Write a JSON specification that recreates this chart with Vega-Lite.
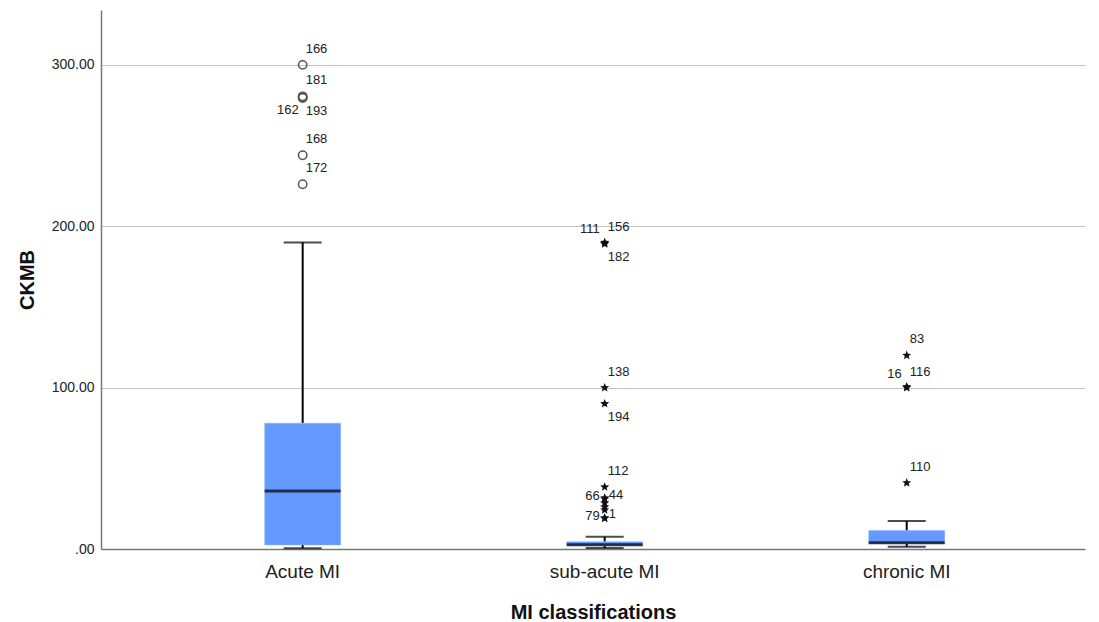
{
  "$schema": "https://vega.github.io/schema/vega-lite/v6.json",
  "width": 984,
  "height": 539,
  "autosize": "none",
  "padding": {"left": 101, "top": 10, "right": 14, "bottom": 73},
  "background": "white",
  "config": {
    "font": "Liberation Sans",
    "view": {"stroke": null},
    "axis": {"labelFont": "Liberation Sans", "titleFont": "Liberation Sans"}
  },
  "datasets": {
    "boxes": [
      {"category": "Acute MI", "lower": 0.5, "q1": 2.5, "median": 36, "q3": 78, "upper": 190},
      {"category": "sub-acute MI", "lower": 0.6, "q1": 2.0, "median": 2.6, "q3": 4.5, "upper": 7.6},
      {"category": "chronic MI", "lower": 1.4, "q1": 3.3, "median": 3.9, "q3": 11.4, "upper": 17.4}
    ],
    "pts": [
      {"category": "Acute MI", "id": "166", "value": 300, "kind": "outlier", "labelPos": "ur"},
      {"category": "Acute MI", "id": "181", "value": 280.5, "kind": "outlier", "labelPos": "ur"},
      {"category": "Acute MI", "id": "162", "value": 280, "kind": "outlier", "labelPos": "ll"},
      {"category": "Acute MI", "id": "193", "value": 279.5, "kind": "outlier", "labelPos": "lr"},
      {"category": "Acute MI", "id": "168", "value": 244, "kind": "outlier", "labelPos": "ur"},
      {"category": "Acute MI", "id": "172", "value": 226, "kind": "outlier", "labelPos": "ur"},
      {"category": "sub-acute MI", "id": "111", "value": 190, "kind": "extreme", "labelPos": "ul"},
      {"category": "sub-acute MI", "id": "156", "value": 189.5, "kind": "extreme", "labelPos": "ur"},
      {"category": "sub-acute MI", "id": "182", "value": 189, "kind": "extreme", "labelPos": "lr"},
      {"category": "sub-acute MI", "id": "138", "value": 100, "kind": "extreme", "labelPos": "ur"},
      {"category": "sub-acute MI", "id": "194", "value": 90, "kind": "extreme", "labelPos": "lr"},
      {"category": "sub-acute MI", "id": "112", "value": 38.4, "kind": "extreme", "labelPos": "ur"},
      {"category": "sub-acute MI", "id": "66", "value": 31.6, "kind": "extreme", "labelPos": "l"},
      {"category": "sub-acute MI", "id": "44", "value": 31, "kind": "extreme", "labelPos": "r"},
      {"category": "sub-acute MI", "id": "", "value": 28.5, "kind": "extreme", "labelPos": "none"},
      {"category": "sub-acute MI", "id": "", "value": 26, "kind": "extreme", "labelPos": "none"},
      {"category": "sub-acute MI", "id": "", "value": 24.2, "kind": "extreme", "labelPos": "none"},
      {"category": "sub-acute MI", "id": "79", "value": 19.2, "kind": "extreme", "labelPos": "l"},
      {"category": "sub-acute MI", "id": "1", "value": 19, "kind": "extreme", "labelPos": "r"},
      {"category": "chronic MI", "id": "83", "value": 120, "kind": "extreme", "labelPos": "ur"},
      {"category": "chronic MI", "id": "16", "value": 100.5, "kind": "extreme", "labelPos": "ul"},
      {"category": "chronic MI", "id": "116", "value": 100, "kind": "extreme", "labelPos": "ur"},
      {"category": "chronic MI", "id": "110", "value": 41, "kind": "extreme", "labelPos": "ur"}
    ]
  },
  "layer": [
    {
      "data": {"name": "boxes"},
      "mark": {"type": "rule", "color": "black", "strokeWidth": 2},
      "encoding": {
        "x": {
          "field": "category", "type": "nominal", "title": "MI classifications",
          "sort": ["Acute MI", "sub-acute MI", "chronic MI"],
          "scale": {"paddingInner": 0, "paddingOuter": 0.129, "align": 0.65},
          "axis": {
            "orient": "bottom",
            "labelAngle": 0, "labelFontSize": 19, "labelColor": "#222", "labelPadding": 13,
            "ticks": false, "domainColor": "#777", "domainWidth": 1.5,
            "titleFontSize": 20, "titleFontWeight": "bold", "titleColor": "#111", "titlePadding": 21
          }
        },
        "y": {
          "field": "lower", "type": "quantitative", "title": "CKMB",
          "scale": {"domain": [0, 334], "nice": false, "zero": true},
          "axis": {
            "orient": "left",
            "values": [0, 100, 200, 300],
            "labelExpr": "datum.value == 0 ? '.00' : format(datum.value, '.2f')",
            "labelFontSize": 14, "labelColor": "#222", "labelPadding": 7,
            "ticks": false, "domainColor": "#777", "domainWidth": 1.5,
            "grid": true, "gridColor": "#c4c4c4", "gridWidth": 1,
            "titleFontSize": 20, "titleFontWeight": "bold", "titleColor": "#111", "titlePadding": 14
          }
        },
        "y2": {"field": "q1"}
      }
    },
    {
      "data": {"name": "boxes"},
      "mark": {"type": "rule", "color": "black", "strokeWidth": 2},
      "encoding": {
        "x": {"field": "category", "type": "nominal", "title": "MI classifications", "sort": ["Acute MI", "sub-acute MI", "chronic MI"]},
        "y": {"field": "q3", "type": "quantitative", "title": "CKMB"},
        "y2": {"field": "upper"}
      }
    },
    {
      "data": {"name": "boxes"},
      "mark": {"type": "bar", "color": "#6699FF", "size": 76, "stroke": "#8fb3ff", "strokeWidth": 0.5},
      "encoding": {
        "x": {"field": "category", "type": "nominal", "title": "MI classifications", "sort": ["Acute MI", "sub-acute MI", "chronic MI"]},
        "y": {"field": "q1", "type": "quantitative", "title": "CKMB"},
        "y2": {"field": "q3"}
      }
    },
    {
      "data": {"name": "boxes"},
      "mark": {"type": "tick", "color": "black", "size": 38, "thickness": 2},
      "encoding": {
        "x": {"field": "category", "type": "nominal", "title": "MI classifications", "sort": ["Acute MI", "sub-acute MI", "chronic MI"]},
        "y": {"field": "upper", "type": "quantitative", "title": "CKMB"}
      }
    },
    {
      "data": {"name": "boxes"},
      "mark": {"type": "tick", "color": "black", "size": 38, "thickness": 2},
      "encoding": {
        "x": {"field": "category", "type": "nominal", "title": "MI classifications", "sort": ["Acute MI", "sub-acute MI", "chronic MI"]},
        "y": {"field": "lower", "type": "quantitative", "title": "CKMB"}
      }
    },
    {
      "data": {"name": "boxes"},
      "mark": {"type": "tick", "color": "black", "size": 76, "thickness": 3},
      "encoding": {
        "x": {"field": "category", "type": "nominal", "title": "MI classifications", "sort": ["Acute MI", "sub-acute MI", "chronic MI"]},
        "y": {"field": "median", "type": "quantitative", "title": "CKMB"}
      }
    },
    {
      "data": {"name": "pts"},
      "transform": [{"filter": "datum.kind == 'outlier'"}],
      "mark": {"type": "point", "shape": "circle", "filled": false, "stroke": "#555", "strokeWidth": 1.5, "size": 70, "opacity": 1},
      "encoding": {
        "x": {"field": "category", "type": "nominal", "title": "MI classifications", "sort": ["Acute MI", "sub-acute MI", "chronic MI"]},
        "y": {"field": "value", "type": "quantitative", "title": "CKMB"}
      }
    },
    {
      "data": {"name": "pts"},
      "transform": [{"filter": "datum.kind == 'extreme'"}],
      "mark": {"type": "point", "shape": "M0,-1L0.26,-0.36L0.951,-0.309L0.42,0.137L0.588,0.809L0,0.44L-0.588,0.809L-0.42,0.137L-0.951,-0.309L-0.26,-0.36Z", "filled": true, "color": "#111", "size": 90, "opacity": 1},
      "encoding": {
        "x": {"field": "category", "type": "nominal", "title": "MI classifications", "sort": ["Acute MI", "sub-acute MI", "chronic MI"]},
        "y": {"field": "value", "type": "quantitative", "title": "CKMB"}
      }
    },
    {
      "data": {"name": "pts"},
      "transform": [{"filter": "datum.labelPos == 'ur'"}],
      "mark": {"type": "text", "align": "left", "baseline": "middle", "dx": 3, "dy": -16, "fontSize": 13, "color": "#222"},
      "encoding": {
        "x": {"field": "category", "type": "nominal", "title": "MI classifications", "sort": ["Acute MI", "sub-acute MI", "chronic MI"]},
        "y": {"field": "value", "type": "quantitative", "title": "CKMB"},
        "text": {"field": "id"}
      }
    },
    {
      "data": {"name": "pts"},
      "transform": [{"filter": "datum.labelPos == 'ul'"}],
      "mark": {"type": "text", "align": "right", "baseline": "middle", "dx": -5, "dy": -13, "fontSize": 13, "color": "#222"},
      "encoding": {
        "x": {"field": "category", "type": "nominal", "title": "MI classifications", "sort": ["Acute MI", "sub-acute MI", "chronic MI"]},
        "y": {"field": "value", "type": "quantitative", "title": "CKMB"},
        "text": {"field": "id"}
      }
    },
    {
      "data": {"name": "pts"},
      "transform": [{"filter": "datum.labelPos == 'lr'"}],
      "mark": {"type": "text", "align": "left", "baseline": "middle", "dx": 3, "dy": 13, "fontSize": 13, "color": "#222"},
      "encoding": {
        "x": {"field": "category", "type": "nominal", "title": "MI classifications", "sort": ["Acute MI", "sub-acute MI", "chronic MI"]},
        "y": {"field": "value", "type": "quantitative", "title": "CKMB"},
        "text": {"field": "id"}
      }
    },
    {
      "data": {"name": "pts"},
      "transform": [{"filter": "datum.labelPos == 'll'"}],
      "mark": {"type": "text", "align": "right", "baseline": "middle", "dx": -4, "dy": 13, "fontSize": 13, "color": "#222"},
      "encoding": {
        "x": {"field": "category", "type": "nominal", "title": "MI classifications", "sort": ["Acute MI", "sub-acute MI", "chronic MI"]},
        "y": {"field": "value", "type": "quantitative", "title": "CKMB"},
        "text": {"field": "id"}
      }
    },
    {
      "data": {"name": "pts"},
      "transform": [{"filter": "datum.labelPos == 'r'"}],
      "mark": {"type": "text", "align": "left", "baseline": "middle", "dx": 4, "dy": -4, "fontSize": 13, "color": "#222"},
      "encoding": {
        "x": {"field": "category", "type": "nominal", "title": "MI classifications", "sort": ["Acute MI", "sub-acute MI", "chronic MI"]},
        "y": {"field": "value", "type": "quantitative", "title": "CKMB"},
        "text": {"field": "id"}
      }
    },
    {
      "data": {"name": "pts"},
      "transform": [{"filter": "datum.labelPos == 'l'"}],
      "mark": {"type": "text", "align": "right", "baseline": "middle", "dx": -5, "dy": -2, "fontSize": 13, "color": "#222"},
      "encoding": {
        "x": {"field": "category", "type": "nominal", "title": "MI classifications", "sort": ["Acute MI", "sub-acute MI", "chronic MI"]},
        "y": {"field": "value", "type": "quantitative", "title": "CKMB"},
        "text": {"field": "id"}
      }
    }
  ]
}
